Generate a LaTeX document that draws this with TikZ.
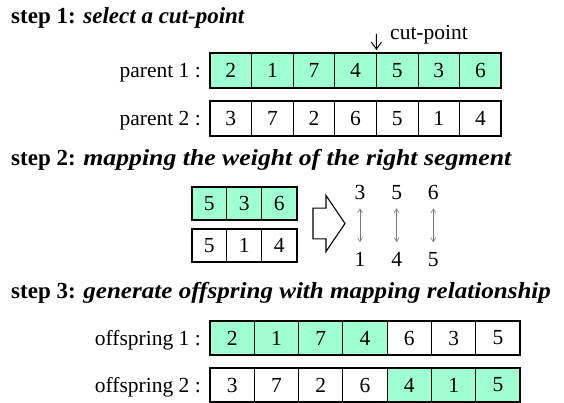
\documentclass[tikz,border=0pt]{standalone}
\usepackage{graphicx}
\usepackage{fontspec}
\setmainfont{LiberationSerif}[Extension=.ttf,UprightFont=*-Regular,BoldFont=*-Bold,
  ItalicFont=*-Italic,BoldItalicFont=*-BoldItalic]
\usetikzlibrary{arrows.meta}
\definecolor{mint}{HTML}{9EFFD0}
\definecolor{mapgray}{HTML}{7A7A7A}
\newcommand{\bodyfont}{\fontsize{21.5}{24}\selectfont}
\newcommand{\headfont}{\fontsize{23}{26}\selectfont}
% bold lead-in, then a bold italic phrase stretched horizontally by #1
\newcommand{\steptitle}[3]{\textbf{#2} \scalebox{#1}[1]{\textbf{\textit{#3}}}}

\begin{document}
\begin{tikzpicture}[x=1pt,y=-1pt,
  cell/.style={draw=black,line width=0.9pt,inner sep=0pt,outer sep=0pt,
               anchor=north west,font=\bodyfont},
  parentcell/.style={cell,minimum width=41.6pt,minimum height=35pt},
  kidcell/.style={cell,minimum width=44.3pt,minimum height=34pt},
  segcell/.style={cell,minimum width=35pt,minimum height=33pt},
  frame/.style={draw=black,line width=2pt},
  rowlabel/.style={anchor=base east,inner sep=0pt,font=\bodyfont},
  heading/.style={anchor=base west,inner sep=0pt,font=\headfont},
  digit/.style={anchor=base,inner sep=0pt,font=\bodyfont},
  maparrow/.style={draw=mapgray,line width=0.6pt,
                   {Straight Barb[length=4pt,width=5pt]}-{Straight Barb[length=4pt,width=5pt]}},
  blockarrow/.style={draw=black,line width=1.1pt,fill=white,line join=miter}
]
\useasboundingbox (0,0) rectangle (564,403);

% ---------- step 1 ----------
\node[heading] (h1) at (11,24) {\steptitle{1}{step 1:}{select a cut-point}};

\foreach \v [count=\i] in {2,1,7,4,5,3,6}
  \node[parentcell,fill=mint] (p1-\i) at ({210+(\i-1)*41.6},53) {\v};
\draw[frame] (p1-1.north west) rectangle (p1-7.south east);
\node[rowlabel] (lp1) at ([xshift=-9pt]p1-1.base west) {parent 1 :};

\foreach \v [count=\i] in {3,7,2,6,5,1,4}
  \node[parentcell,fill=white] (p2-\i) at ({210+(\i-1)*41.6},101) {\v};
\draw[frame] (p2-1.north west) rectangle (p2-7.south east);
\node[rowlabel] (lp2) at ([xshift=-9pt]p2-1.base west) {parent 2 :};

% cut-point marker
\coordinate (cuttop) at (376.4,34);
\draw[line width=1pt,-{Straight Barb[length=7pt,width=10pt]},shorten >=3pt]
  (cuttop) -- (p1-4.north east);
\node[anchor=base west,inner sep=0pt,font=\bodyfont] (cutlabel) at (390,40) {cut-point};

% ---------- step 2 ----------
\node[heading] (h2) at (11,166) {\steptitle{1.12}{step 2:}{mapping the weight of the right segment}};

\foreach \v [count=\i] in {5,3,6}
  \node[segcell,fill=mint] (s1-\i) at ({191.7+(\i-1)*35},187) {\v};
\draw[frame] (s1-1.north west) rectangle (s1-3.south east);
\foreach \v [count=\i] in {5,1,4}
  \node[segcell,fill=white] (s2-\i) at ({191.7+(\i-1)*35},229) {\v};
\draw[frame] (s2-1.north west) rectangle (s2-3.south east);

% block arrow
\draw[blockarrow] (313,208.2) -- (326,208.2) -- (326,195.5) -- (345,223.5)
  -- (326,251.5) -- (326,238.8) -- (313,238.8) -- cycle;

% mapping pairs
\foreach \a/\b/\x [count=\i] in {3/1/360,5/4/396.7,6/5/433.3}{
  \node[digit] (mt-\i) at (\x,200) {\a};
  \node[digit] (mb-\i) at (\x,266.5) {\b};
  \draw[maparrow,shorten <=8pt,shorten >=10pt] (mt-\i.south) -- (mb-\i.north);
}

% ---------- step 3 ----------
\node[heading] (h3) at (11,298) {\steptitle{1.09}{step 3:}{generate offspring with mapping relationship}};

\foreach \v/\f [count=\i] in {2/mint,1/mint,7/mint,4/mint,6/white,3/white,5/white}
  \node[kidcell,fill=\f] (o1-\i) at ({210+(\i-1)*44.3},321) {\v};
\draw[frame] (o1-1.north west) rectangle (o1-7.south east);
\node[rowlabel] (lo1) at ([xshift=-9pt]o1-1.base west) {offspring 1 :};

\foreach \v/\f [count=\i] in {3/white,7/white,2/white,6/white,4/mint,1/mint,5/mint}
  \node[kidcell,fill=\f] (o2-\i) at ({210+(\i-1)*44.3},368) {\v};
\draw[frame] (o2-1.north west) rectangle (o2-7.south east);
\node[rowlabel] (lo2) at ([xshift=-9pt]o2-1.base west) {offspring 2 :};
\end{tikzpicture}
\end{document}
